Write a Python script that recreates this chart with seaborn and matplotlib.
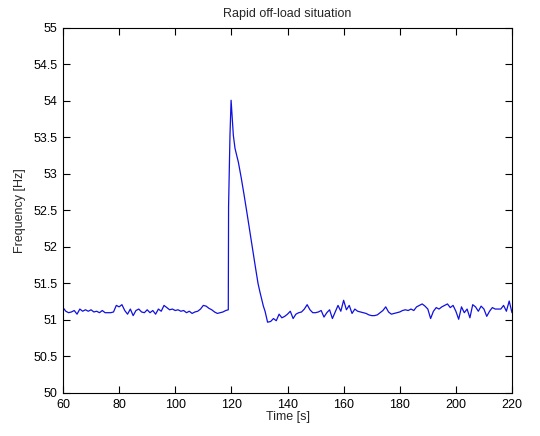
import matplotlib
matplotlib.use("Agg")
import matplotlib.pyplot as plt
import seaborn as sns
import pandas as pd
from matplotlib.ticker import FormatStrFormatter, MultipleLocator

# ---- data ----
time_pre = list(range(60, 119))
freq_pre = [51.17, 51.12, 51.10, 51.11, 51.13, 51.08, 51.15, 51.12, 51.14, 51.12,
            51.14, 51.11, 51.12, 51.10, 51.13, 51.10, 51.10, 51.10, 51.11, 51.20,
            51.18, 51.21, 51.13, 51.08, 51.15, 51.06, 51.13, 51.15, 51.11, 51.10,
            51.14, 51.10, 51.13, 51.08, 51.15, 51.12, 51.20, 51.17, 51.14, 51.15,
            51.13, 51.14, 51.12, 51.13, 51.10, 51.12, 51.09, 51.11, 51.12, 51.15,
            51.20, 51.19, 51.16, 51.14, 51.11, 51.09, 51.10, 51.11, 51.13]

time_peak = [118.9, 119.0, 119.5, 119.9, 120.3, 120.7, 121.3, 122.5, 123.5, 124.5,
             125.5, 126.5, 127.5, 128.5, 129.5, 130.2, 131.4, 132.0, 132.9]
freq_peak = [51.14, 52.55, 53.53, 54.01, 53.76, 53.53, 53.35, 53.16, 52.95, 52.72,
             52.48, 52.23, 51.98, 51.74, 51.50, 51.38, 51.19, 51.12, 50.97]

time_post = list(range(134, 221))
freq_post = [50.98, 51.02, 50.99, 51.08, 51.03, 51.05, 51.08, 51.12, 51.02, 51.08,
             51.10, 51.11, 51.15, 51.21, 51.14, 51.10, 51.10, 51.11, 51.13, 51.04,
             51.10, 51.14, 51.02, 51.11, 51.20, 51.12, 51.27, 51.14, 51.20, 51.09,
             51.15, 51.12, 51.11, 51.10, 51.09, 51.07, 51.06, 51.06, 51.07, 51.10,
             51.13, 51.18, 51.11, 51.08, 51.09, 51.10, 51.11, 51.13, 51.14, 51.13,
             51.15, 51.13, 51.18, 51.20, 51.22, 51.19, 51.15, 51.02, 51.12, 51.17,
             51.15, 51.18, 51.20, 51.22, 51.17, 51.20, 51.12, 51.01, 51.18, 51.10,
             51.15, 51.03, 51.21, 51.18, 51.12, 51.19, 51.15, 51.05, 51.12, 51.17,
             51.15, 51.15, 51.15, 51.20, 51.12, 51.26, 51.10]

x_ticks = [60, 80, 100, 120, 140, 160, 180, 200, 220]
title = "Rapid off-load situation"
xlabel = "Time [s]"
ylabel = "Frequency [Hz]"

df = pd.DataFrame({"t": time_pre + time_peak + time_post,
                   "f": freq_pre + freq_peak + freq_post})

sns.set_theme(style="white")
plt.rcParams["font.family"] = ["Liberation Sans", "DejaVu Sans"]

fig = plt.figure(figsize=(5.4, 4.36), dpi=100)
ax = fig.add_axes([63 / 540, 1 - 393 / 436, (512 - 63) / 540, (393 - 28) / 436])

sns.lineplot(data=df, x="t", y="f", ax=ax, color="#1010e0", linewidth=0.9,
             estimator=None, sort=False)

ax.set_xlim(60, 220)
ax.set_ylim(50, 55)
ax.set_xticks(x_ticks)
ax.yaxis.set_major_locator(MultipleLocator(0.5))
ax.yaxis.set_major_formatter(FormatStrFormatter("%g"))
ax.tick_params(direction="in", length=5, width=0.8, labelsize=9, colors="black",
               top=True, right=True, bottom=True, left=True)
ax.tick_params(axis="x", pad=4)
ax.tick_params(axis="y", pad=4)
for s in ax.spines.values():
    s.set_color("black")
    s.set_linewidth(0.8)
ax.set_title(title, fontsize=9, pad=8)
ax.set_xlabel(xlabel, fontsize=9, labelpad=0)
ax.set_ylabel(ylabel, fontsize=9, labelpad=5)
ax.grid(False)

fig.savefig("out.png", dpi=100, facecolor="white")
